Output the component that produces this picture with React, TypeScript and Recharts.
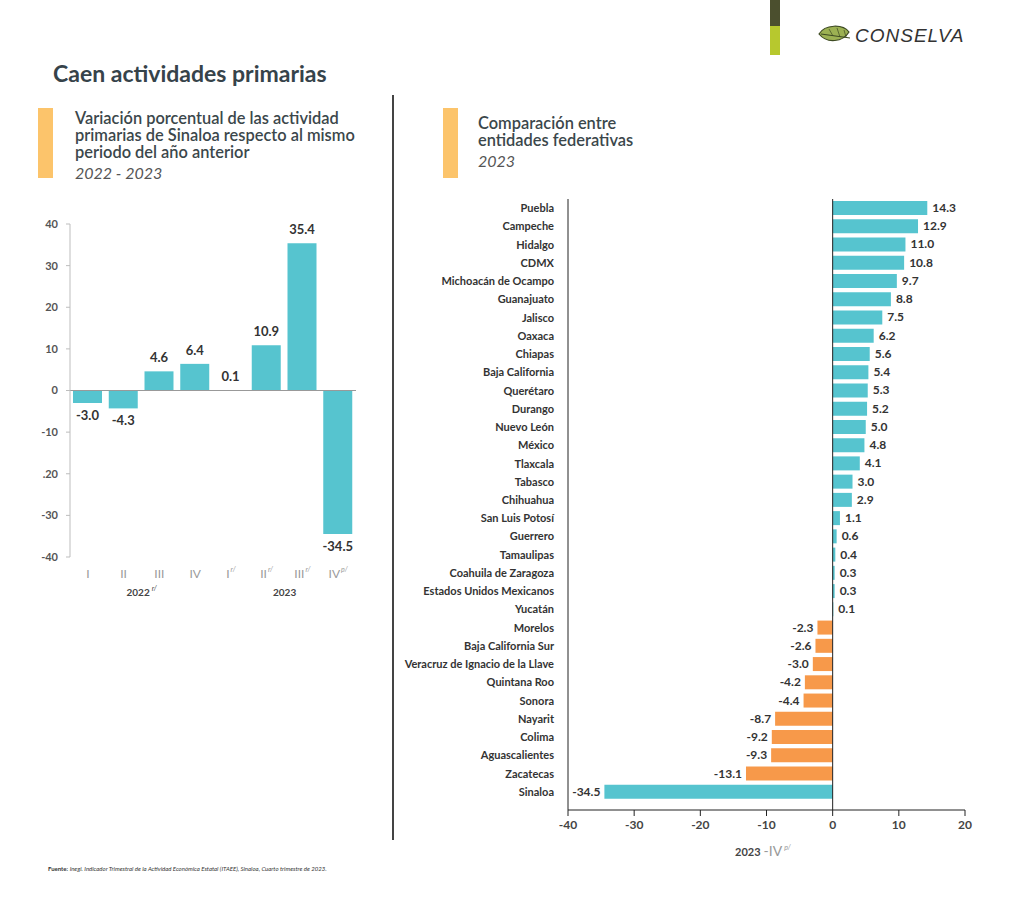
import React from 'react';
import {
  BarChart, Bar, XAxis, YAxis, Cell, LabelList, ReferenceLine
} from 'recharts';

// Sinaloa, quarterly change (%)
const quarterLabels = ['I', 'II', 'III', 'IV', 'I', 'II', 'III', 'IV'];
const quarterNotes = ['', '', '', '', 'r/', 'r/', 'r/', 'p/'];
const sinaloaVariation = [-3.0, -4.3, 4.6, 6.4, 0.1, 10.9, 35.4, -34.5];
const yearLabels = ['2022', '2023'];
const yearNotes = ['r/', ''];
const leftTicks = [-40, -30, -20, -10, 0, 10, 20, 30, 40];

// states, 2023 IV
const states = [
  'Puebla', 'Campeche', 'Hidalgo', 'CDMX', 'Michoacán de Ocampo', 'Guanajuato', 'Jalisco',
  'Oaxaca', 'Chiapas', 'Baja California', 'Querétaro', 'Durango', 'Nuevo León', 'México',
  'Tlaxcala', 'Tabasco', 'Chihuahua', 'San Luis Potosí', 'Guerrero', 'Tamaulipas',
  'Coahuila de Zaragoza', 'Estados Unidos Mexicanos', 'Yucatán', 'Morelos',
  'Baja California Sur', 'Veracruz de Ignacio de la Llave', 'Quintana Roo', 'Sonora',
  'Nayarit', 'Colima', 'Aguascalientes', 'Zacatecas', 'Sinaloa'
];
const stateVariation = [
  14.3, 12.9, 11.0, 10.8, 9.7, 8.8, 7.5, 6.2, 5.6, 5.4, 5.3, 5.2, 5.0, 4.8, 4.1, 3.0, 2.9,
  1.1, 0.6, 0.4, 0.3, 0.3, 0.1, -2.3, -2.6, -3.0, -4.2, -4.4, -8.7, -9.2, -9.3, -13.1, -34.5
];
const rightTicks = [-40, -30, -20, -10, 0, 10, 20];
const highlighted = 'Sinaloa';

const TEAL = '#56c4cf';
const ORANGE = '#f7994a';
const ACCENT = '#fcc46b';
const TEXT = '#333';

const quarterData = sinaloaVariation.map((v, i) => ({ key: `q${i}`, value: v }));
const stateData = states.map((s, i) => ({ name: s, value: stateVariation[i] }));

const fmt = (v: number) => v.toFixed(1);

// the source image prints "-20" as ".20" on the left axis
const leftTickFormat = (v: number) => (v === -20 ? '.20' : String(v));

const QuarterTick = (props: any) => {
  const { x, y, payload } = props;
  const i = payload.index;
  const note = quarterNotes[i];
  const yearIdx = i === 1 ? 0 : i === 5 ? 1 : -1;
  return (
    <g>
      <text x={x} y={y + 13} textAnchor="middle" fontSize={12} fill="#9a9a9a" fontFamily="Lato">
        {quarterLabels[i]}
        {note && <tspan dx={1} dy={-6} fontSize={7} fontStyle="italic">{note}</tspan>}
      </text>
      {yearIdx >= 0 && (
        <text x={x + 18} y={y + 31} textAnchor="middle" fontSize={10} fontWeight={700} fill="#444" fontFamily="Lato">
          {yearLabels[yearIdx]}
          {yearNotes[yearIdx] && <tspan dx={2} dy={-5} fontSize={7} fontStyle="italic" fontWeight={400}>{yearNotes[yearIdx]}</tspan>}
        </text>
      )}
    </g>
  );
};

// plain text tick so long state names stay on one line
const StateTick = (props: any) => {
  const { x, y, payload } = props;
  return (
    <text x={x} y={y + 4} textAnchor="end" fontSize={11} fontWeight={700} fill={TEXT} fontFamily="Lato">
      {payload.value}
    </text>
  );
};

const QuarterLabel = (props: any) => {
  const { x, y, width, height, value } = props;
  const top = Math.min(y, y + height);
  const bottom = Math.max(y, y + height);
  const cx = x + width / 2;
  const ty = value >= 0 ? top - 9 : bottom + 17;
  return (
    <text x={cx} y={ty} textAnchor="middle" fontSize={13} fontWeight={700} fill={TEXT} fontFamily="Lato">
      {fmt(value)}
    </text>
  );
};

const StateLabel = (props: any) => {
  const { x, y, width, height, value } = props;
  const right = Math.max(x, x + width);
  const left = Math.min(x, x + width);
  const cy = y + height / 2 + 4;
  return value >= 0 ? (
    <text x={right + 5} y={cy} textAnchor="start" fontSize={12} fontWeight={700} fill={TEXT} fontFamily="Lato">{fmt(value)}</text>
  ) : (
    <text x={left - 4} y={cy} textAnchor="end" fontSize={12} fontWeight={700} fill={TEXT} fontFamily="Lato">{fmt(value)}</text>
  );
};

const Logo = () => (
  <div style={{ position: 'absolute', left: 770, top: 0 }}>
    <div style={{ position: 'absolute', left: 0, top: 0, width: 10, height: 26, background: '#4b4f2e' }} />
    <div style={{ position: 'absolute', left: 0, top: 26, width: 10, height: 29, background: '#b7c82e' }} />
    <svg style={{ position: 'absolute', left: 47, top: 24 }} width={36} height={24}>
      <path d="M2 10 C8 0, 26 0, 32 8 C26 18, 10 20, 2 10 Z" fill="#9cb153" stroke="#3d4a22" strokeWidth={1.2} />
      <path d="M4 10 L33 14" stroke="#3d4a22" strokeWidth={1} />
      <path d="M12 5 L16 12 M20 4 L23 13 M27 6 L29 13" stroke="#3d4a22" strokeWidth={0.7} />
    </svg>
    <div style={{
      position: 'absolute', left: 85, top: 25, fontFamily: 'Liberation Sans', fontStyle: 'italic',
      fontSize: 19, letterSpacing: 1, color: '#333', whiteSpace: 'nowrap'
    }}>CONSELVA</div>
  </div>
);

export default function App() {
  const subStyle: React.CSSProperties = {
    fontFamily: 'Lato', fontSize: 16.4, lineHeight: '17px', color: '#3b474b', fontWeight: 600, whiteSpace: 'nowrap'
  };
  const yearStyle: React.CSSProperties = {
    fontFamily: 'Lato', fontSize: 16, lineHeight: '18px', fontStyle: 'italic', color: '#555', marginTop: 4
  };
  return (
    <div style={{ position: 'absolute', left: 0, top: 0, width: 1024, height: 909, background: '#fff', overflow: 'hidden', fontFamily: 'Lato' }}>
      <Logo />

      <div style={{ position: 'absolute', left: 53, top: 59, fontFamily: 'Lato', fontWeight: 700, fontSize: 23, color: '#36434a' }}>
        Caen actividades primarias
      </div>

      {/* left header */}
      <div style={{ position: 'absolute', left: 38, top: 108, width: 15, height: 70, background: ACCENT }} />
      <div style={{ position: 'absolute', left: 75, top: 109 }}>
        <div style={subStyle}>Variación porcentual de las actividad</div>
        <div style={subStyle}>primarias de Sinaloa respecto al mismo</div>
        <div style={subStyle}>periodo del año anterior</div>
        <div style={yearStyle}>2022 - 2023</div>
      </div>

      {/* divider */}
      <div style={{ position: 'absolute', left: 392, top: 95, width: 2, height: 745, background: '#444' }} />

      {/* right header */}
      <div style={{ position: 'absolute', left: 443, top: 108, width: 15, height: 70, background: ACCENT }} />
      <div style={{ position: 'absolute', left: 478, top: 114 }}>
        <div style={subStyle}>Comparación entre</div>
        <div style={subStyle}>entidades federativas</div>
        <div style={{ ...yearStyle, marginTop: 4 }}>2023</div>
      </div>

      {/* left chart */}
      <div style={{ position: 'absolute', left: 20, top: 210 }}>
        <BarChart width={360} height={400} data={quarterData} margin={{ top: 14, right: 24, bottom: 3, left: 0 }}>
          <XAxis dataKey="key" axisLine={false} tickLine={false} height={50} interval={0} tick={<QuarterTick />} />
          <YAxis
            type="number"
            domain={[-40, 40]}
            ticks={leftTicks}
            width={50}
            interval={0}
            tickFormatter={leftTickFormat}
            axisLine={{ stroke: '#bdbdbd' }}
            tickLine={{ stroke: '#bdbdbd' }}
            tickSize={4}
            tickMargin={8}
            tick={{ fontSize: 11, fontWeight: 700, fill: '#555', fontFamily: 'Lato' }}
          />
          <ReferenceLine y={0} stroke="#999" strokeWidth={1} />
          <Bar dataKey="value" fill={TEAL} barSize={29} isAnimationActive={false}>
            <LabelList dataKey="value" content={<QuarterLabel />} />
          </Bar>
        </BarChart>
      </div>

      {/* right chart */}
      <div style={{ position: 'absolute', left: 395, top: 185 }}>
        <BarChart width={600} height={680} data={stateData} layout="vertical" margin={{ top: 14, right: 30, bottom: 0, left: 0 }}>
          <XAxis
            type="number"
            domain={[-40, 20]}
            ticks={rightTicks}
            interval={0}
            height={55}
            axisLine={{ stroke: '#222' }}
            tickLine={{ stroke: '#222' }}
            tickSize={6}
            tickMargin={4}
            tick={{ fontSize: 12, fontWeight: 700, fill: '#444', fontFamily: 'Lato' }}
          />
          <YAxis
            type="category"
            dataKey="name"
            width={173}
            interval={0}
            padding={{ top: 0, bottom: 9 }}
            axisLine={{ stroke: '#222' }}
            tickLine={false}
            tickSize={6}
            tickMargin={8}
            tick={<StateTick />}
          />
          <ReferenceLine x={0} stroke="#222" strokeWidth={1} />
          <Bar dataKey="value" barSize={14} isAnimationActive={false}>
            {stateData.map((d) => (
              <Cell key={d.name} fill={d.value < 0 && d.name !== highlighted ? ORANGE : TEAL} />
            ))}
            <LabelList dataKey="value" content={<StateLabel />} />
          </Bar>
        </BarChart>
      </div>

      <div style={{ position: 'absolute', left: 735, top: 840, fontFamily: 'Lato', whiteSpace: 'nowrap', color: '#444' }}>
        <span style={{ fontSize: 11, fontWeight: 700 }}>2023</span>
        <span style={{ fontSize: 14, color: '#999', marginLeft: 3 }}>-IV</span>
        <sup style={{ fontSize: 7, fontStyle: 'italic', color: '#999', marginLeft: 2 }}>p/</sup>
      </div>

      <div style={{ position: 'absolute', left: 48, top: 865, fontFamily: 'Lato', fontSize: 6, color: '#333', whiteSpace: 'nowrap' }}>
        <b>Fuente:</b> <i>Inegi. Indicador Trimestral de la Actividad Económica Estatal (ITAEE), Sinaloa, Cuarto trimestre de 2023.</i>
      </div>
    </div>
  );
}
